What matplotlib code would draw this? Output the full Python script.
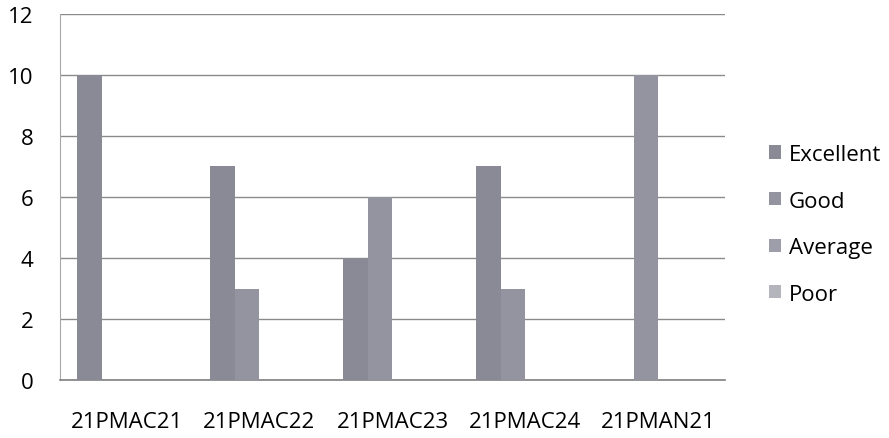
import numpy as np
import matplotlib.pyplot as plt

plt.rcParams['font.family'] = ['Open Sans', 'DejaVu Sans']

courses = ["21PMAC21", "21PMAC22", "21PMAC23", "21PMAC24", "21PMAN21"]
excellent = [10, 7, 4, 7, 0]
good = [0, 3, 6, 3, 10]
average = [0, 0, 0, 0, 0]
poor = [0, 0, 0, 0, 0]

series = [("Excellent", excellent, "#8a8a97"),
          ("Good", good, "#9494a0"),
          ("Average", average, "#9e9eaa"),
          ("Poor", poor, "#b4b4bd")]

fig = plt.figure(figsize=(8.89, 4.39), dpi=100)
ax = fig.add_axes([0.0675, 0.132, 0.748, 0.834])

x = np.arange(len(courses))
w = 0.185
for i, (name, vals, col) in enumerate(series):
    ax.bar(x + (i - 1.5) * w, vals, w, color=col, label=name, zorder=3)

ax.set_xlim(-0.5, len(courses) - 0.5)
ax.set_ylim(0, 12)
ax.set_yticks(range(0, 13, 2))
ax.set_xticks(x)
ax.set_xticklabels(courses, fontsize=16)
ax.tick_params(axis='y', labelsize=16, length=0, pad=19)
ax.tick_params(axis='x', length=0, pad=22)
ax.yaxis.grid(True, color="#8a8a8a", linewidth=1.0, zorder=0)

for s in ["top", "right"]:
    ax.spines[s].set_visible(False)
ax.spines["left"].set_color("#a8a8a8")
ax.spines["bottom"].set_color("#808080")
ax.spines["bottom"].set_linewidth(1.2)

fig.legend(loc="upper left", bbox_to_anchor=(0.855, 0.69), frameon=False,
           fontsize=16, handlelength=0.55, handleheight=0.55, handletextpad=0.35,
           labelspacing=1.15, borderaxespad=0)

fig.savefig("out.png", dpi=100)
